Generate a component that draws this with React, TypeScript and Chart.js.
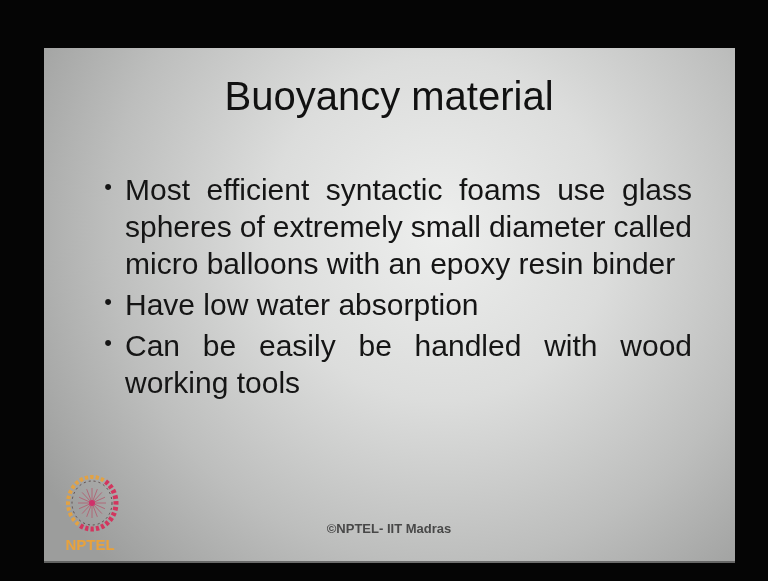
import React, { useEffect, useRef } from "react";
import { Chart, registerables } from "chart.js";

Chart.register(...registerables);

const titleText = "Buoyancy material";
const bulletParagraphs: string[][] = [
  [
    "Most efficient syntactic foams use glass",
    "spheres of extremely small diameter called",
    "micro balloons with an epoxy resin binder",
  ],
  ["Have low water absorption"],
  ["Can be easily be handled with wood", "working tools"],
];
const footerText = "\u00A9NPTEL- IIT Madras";
const logoText = "NPTEL";

const FONT = "'Liberation Sans', Arial, Helvetica, sans-serif";

const slidePlugin = {
  id: "slideBackground",
  beforeDraw(chart: any) {
    const ctx = chart.ctx as CanvasRenderingContext2D;
    const W = chart.width;
    const H = chart.height;
    ctx.save();
    ctx.fillStyle = "#050505";
    ctx.fillRect(0, 0, W, H);
    const x0 = 44, y0 = 48, x1 = 735, y1 = 563;
    const g = ctx.createRadialGradient(440, 230, 10, 440, 230, 470);
    g.addColorStop(0, "#ecedec");
    g.addColorStop(0.35, "#dcdddc");
    g.addColorStop(0.7, "#bdbebd");
    g.addColorStop(1, "#9c9d9c");
    ctx.fillStyle = g;
    ctx.fillRect(x0, y0, x1 - x0, y1 - y0);
    ctx.fillStyle = "rgba(60,60,60,0.6)";
    ctx.fillRect(x0, y1 - 2, x1 - x0, 2);
    ctx.restore();
  },
  afterDraw(chart: any) {
    const ctx = chart.ctx as CanvasRenderingContext2D;
    ctx.save();
    // bullets
    const textX = 125;
    const rightX = 692;
    const bulletX = 108;
    const lineGap = 37;
    const paraGap = 41;
    let y = 200;
    ctx.fillStyle = "#151515";
    ctx.textBaseline = "alphabetic";
    bulletParagraphs.forEach((lines, pi) => {
      if (pi > 0) y += paraGap - lineGap;
      lines.forEach((line, li) => {
        if (li === 0) {
          ctx.font = `22px ${FONT}`;
          ctx.textAlign = "center";
          ctx.fillText("\u2022", bulletX, y - 6);
        }
        ctx.font = `30px ${FONT}`;
        ctx.textAlign = "left";
        const justify = li < lines.length - 1;
        if (justify) {
          const words = line.split(" ");
          const widths = words.map((w) => ctx.measureText(w).width);
          const total = widths.reduce((a, b) => a + b, 0);
          const gap = (rightX - textX - total) / (words.length - 1);
          let x = textX;
          words.forEach((w, i) => {
            ctx.fillText(w, x, y);
            x += widths[i] + gap;
          });
        } else {
          ctx.fillText(line, textX, y);
        }
        y += lineGap;
      });
    });

    // footer
    ctx.font = `bold 13px ${FONT}`;
    ctx.fillStyle = "#484848";
    ctx.textAlign = "center";
    ctx.textBaseline = "middle";
    ctx.fillText(footerText, 389, 529);

    // logo
    const cx = 92, cy = 503, rx = 24, ry = 26;
    const segs = 28;
    for (let i = 0; i < segs; i++) {
      const a0 = Math.PI / 2 + (i / segs) * Math.PI * 2 + 0.6;
      const a1 = a0 + (Math.PI * 2) / segs * 0.6;
      const t = i / segs;
      ctx.beginPath();
      ctx.ellipse(cx, cy, rx, ry, 0, a0, a1);
      ctx.lineWidth = t < 0.5 ? 4 : 5;
      ctx.strokeStyle = t < 0.5 ? "#e2a244" : "#d2365e";
      ctx.stroke();
    }
    ctx.beginPath();
    ctx.ellipse(cx, cy, rx - 4, ry - 4, 0, 0, Math.PI * 2);
    ctx.lineWidth = 1;
    ctx.setLineDash([2, 3]);
    ctx.strokeStyle = "#5a4a4a";
    ctx.stroke();
    ctx.setLineDash([]);
    for (let i = 0; i < 16; i++) {
      const a = (i / 16) * Math.PI * 2;
      ctx.beginPath();
      ctx.moveTo(cx, cy);
      ctx.lineTo(cx + Math.cos(a) * 14, cy + Math.sin(a) * 15);
      ctx.strokeStyle = "#b06878";
      ctx.lineWidth = 1;
      ctx.stroke();
    }
    ctx.beginPath();
    ctx.arc(cx, cy, 3, 0, Math.PI * 2);
    ctx.fillStyle = "#d0306a";
    ctx.fill();
    ctx.font = `bold 15px ${FONT}`;
    ctx.fillStyle = "#e8a23c";
    ctx.textAlign = "center";
    ctx.textBaseline = "alphabetic";
    ctx.fillText(logoText, 90, 550);
    ctx.restore();
  },
};

export default function App() {
  const ref = useRef<HTMLCanvasElement | null>(null);
  useEffect(() => {
    if (!ref.current) return;
    const chart = new Chart(ref.current, {
      type: "bar",
      data: { labels: [], datasets: [] },
      options: {
        responsive: false,
        animation: false,
        layout: { padding: { left: 10, right: 0, top: 0, bottom: 0 } },
        scales: { x: { display: false }, y: { display: false } },
        plugins: {
          legend: { display: false },
          tooltip: { enabled: false },
          title: {
            display: true,
            text: titleText,
            color: "#111111",
            font: { family: FONT, size: 40, weight: "normal" },
            padding: { top: 75, bottom: 0 },
          },
        },
      },
      plugins: [slidePlugin],
    });
    return () => chart.destroy();
  }, []);
  return (
    <div style={{ position: "fixed", left: 0, top: 0, width: 768, height: 581 }}>
      <canvas ref={ref} width={768} height={581} />
    </div>
  );
}
